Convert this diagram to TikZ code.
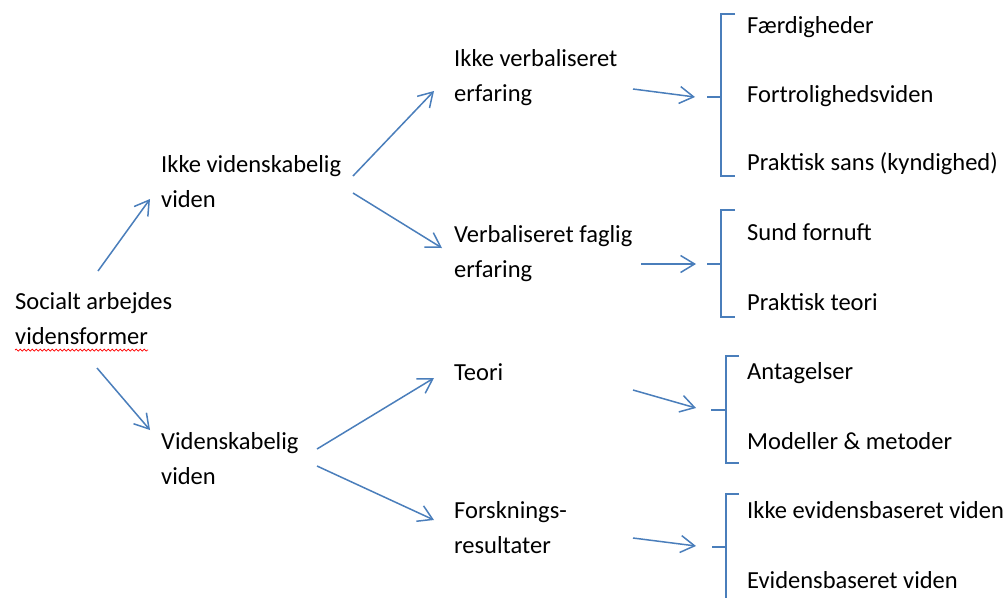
\documentclass[tikz,border=0pt]{standalone}
\usepackage{fontspec}
\setmainfont{Carlito}
\usetikzlibrary{arrows.meta,decorations.pathmorphing}
\definecolor{ablue}{RGB}{74,126,187}
\begin{document}
\begin{tikzpicture}[x=1pt,y=-1pt,
  lbl/.style={anchor=base west,inner sep=0pt,align=left,font=\fontsize{24.5}{34.5}\selectfont},
  arr/.style={draw=ablue,line width=1.5pt,-{Straight Barb[length=14pt,width=17pt,line width=1.5pt]}},
  brk/.style={draw=ablue,line width=1.5pt}]
\useasboundingbox (0,0) rectangle (1007,598);
% nodes (base = baseline of last line)
\node[lbl] (soc) at (15,344) {Socialt arbejdes\\vidensformer};
\node[lbl] (ikv) at (161,207) {Ikke videnskabelig\\viden};
\node[lbl] (vv) at (161,484) {Videnskabelig\\viden};
\node[lbl] (ive) at (454,101) {Ikke verbaliseret\\erfaring};
\node[lbl] (vfe) at (454,277) {Verbaliseret faglig\\erfaring};
\node[lbl] (teo) at (454,380) {Teori};
\node[lbl] (for) at (454,553) {Forsknings-\\resultater};
\node[lbl] (r1) at (747,33) {Færdigheder};
\node[lbl] (r2) at (747,102) {Fortrolighedsviden};
\node[lbl] (r3) at (747,170) {Praktisk sans (kyndighed)};
\node[lbl] (r4) at (747,240) {Sund fornuft};
\node[lbl] (r5) at (747,310) {Praktisk teori};
\node[lbl] (r6) at (747,379) {Antagelser};
\node[lbl] (r7) at (747,449) {Modeller \& metoder};
\node[lbl] (r8) at (747,518) {Ikke evidensbaseret viden};
\node[lbl] (r9) at (747,588) {Evidensbaseret viden};
% spell-check squiggle
\draw[red,line width=0.7pt,decorate,decoration={snake,amplitude=1pt,segment length=4pt}] (15,350) -- (148,350);
% coordinates for connector ends
\coordinate (s1) at (98,271); \coordinate (e1) at (150,199);
\coordinate (s2) at (97,368); \coordinate (e2) at (150,430);
\coordinate (s3) at (353,176); \coordinate (e3) at (434,91);
\coordinate (s4) at (353,193); \coordinate (e4) at (442,248);
\coordinate (s5) at (317,449); \coordinate (e5) at (434,378);
\coordinate (s6) at (317,466); \coordinate (e6) at (434,520);
\coordinate (s7) at (633,89); \coordinate (b1) at (695,97);
\coordinate (s8) at (641,264); \coordinate (b2) at (696,264);
\coordinate (s9) at (633,390); \coordinate (b3) at (696,408);
\coordinate (s10) at (633,538); \coordinate (b4) at (696,546);
\draw[arr] (s1) -- (e1);
\draw[arr] (s2) -- (e2);
\draw[arr] (s3) -- (e3);
\draw[arr] (s4) -- (e4);
\draw[arr] (s5) -- (e5);
\draw[arr] (s6) -- (e6);
\draw[arr] (s7) -- (b1);
\draw[arr] (s8) -- (b2);
\draw[arr] (s9) -- (b3);
\draw[arr] (s10) -- (b4);
% brackets
\draw[brk] (735,14) -- (721,14) -- (721,176) -- (735,176);
\draw[brk] (707,97) -- (721,97);
\draw[brk] (735,210) -- (721,210) -- (721,317) -- (735,317);
\draw[brk] (707,264) -- (721,264);
\draw[brk] (739,356) -- (726,356) -- (726,463) -- (739,463);
\draw[brk] (711,410) -- (726,410);
\draw[brk] (739,494) -- (726,494) -- (726,598);
\draw[brk] (712,547) -- (726,547);
\end{tikzpicture}
\end{document}
